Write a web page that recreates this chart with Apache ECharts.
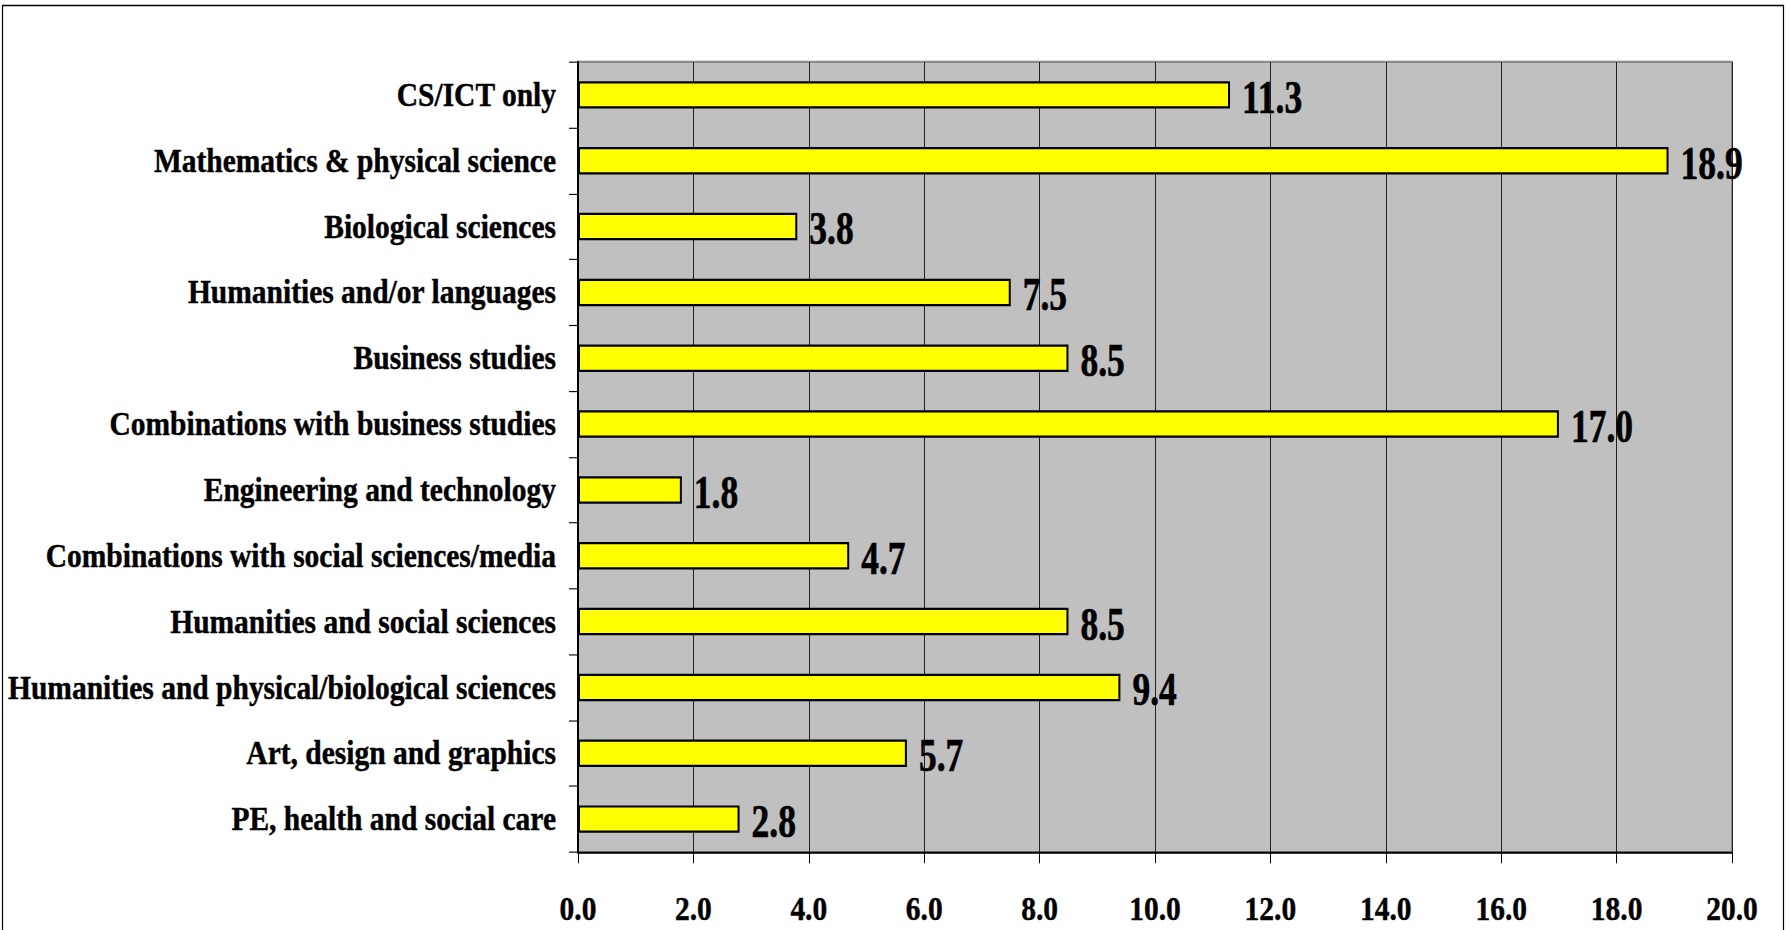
<!DOCTYPE html>
<html>
<head>
<meta charset="utf-8">
<title>Degree subjects</title>
<script src="https://cdn.jsdelivr.net/npm/echarts@6/dist/echarts.min.js"></script>
<style>
  html, body { margin: 0; padding: 0; background: #fff; overflow: hidden; }
  /* the chart is laid out 830px tall and stretched to fill the 930px frame,
     giving the tall, narrow lettering of the printed figure */
  #frame { width: 1789px; height: 930px; overflow: hidden; }
  #chart { width: 1789px; height: 830px; transform: scaleY(1.1205); transform-origin: 0 0; }
</style>
</head>
<body>
<div id="frame"><div id="chart"></div></div>
<script>
// Subject groups, listed top to bottom
const categories = [
  'CS/ICT only',
  'Mathematics & physical science',
  'Biological sciences',
  'Humanities and/or languages',
  'Business studies',
  'Combinations with business studies',
  'Engineering and technology',
  'Combinations with social sciences/media',
  'Humanities and social sciences',
  'Humanities and physical/biological sciences',
  'Art, design and graphics',
  'PE, health and social care'
];
// Percentage for each subject group
const values = [11.3, 18.9, 3.8, 7.5, 8.5, 17.0, 1.8, 4.7, 8.5, 9.4, 5.7, 2.8];
// Value axis range and step
const axisMin = 0;
const axisMax = 20;
const axisStep = 2;

const FONT = '"Liberation Serif", "Times New Roman", serif';

const chart = echarts.init(document.getElementById('chart'), null, { renderer: 'svg' });

chart.setOption({
  backgroundColor: '#ffffff',
  animation: false,
  grid: {
    left: 578, right: 57, top: 55.3, bottom: 69.6,
    show: true,
    backgroundColor: '#C0C0C0',
    borderColor: '#8a8a8a',
    borderWidth: 2
  },
  graphic: [{
    type: 'rect',
    silent: true,
    shape: { x: 2.5, y: 4.9, width: 1781, height: 1000 },
    style: { fill: 'none', stroke: '#000', lineWidth: 1.2 }
  }],
  xAxis: {
    type: 'value',
    min: axisMin, max: axisMax, interval: axisStep,
    axisLine: { show: true, lineStyle: { color: '#000', width: 1.8 } },
    axisTick: { show: true, length: 10, lineStyle: { color: '#000', width: 1 } },
    splitLine: { show: true, lineStyle: { color: '#222', width: 1 } },
    axisLabel: {
      margin: 36,
      color: '#000',
      fontFamily: FONT,
      fontWeight: 'bold',
      fontSize: 29.5,
      textBorderColor: '#000',
      textBorderWidth: 0.4,
      formatter: v => v.toFixed(1)
    }
  },
  yAxis: {
    type: 'category',
    inverse: true,
    data: categories,
    axisLine: { show: true, lineStyle: { color: '#000', width: 2 } },
    axisTick: { show: true, length: 9, lineStyle: { color: '#000', width: 1 } },
    splitLine: { show: false },
    axisLabel: {
      margin: 22,
      color: '#000',
      fontFamily: FONT,
      fontWeight: 'bold',
      fontSize: 29.5,
      textBorderColor: '#000',
      textBorderWidth: 0.4,
      padding: [14, 0, 0, 0]
    }
  },
  series: [
    {
      type: 'bar',
      data: values,
      barWidth: 24.5,
      itemStyle: { color: '#FFFF00', borderColor: '#000', borderWidth: 2 },
      z: 3
    },
    {
      // value labels at the end of each bar
      type: 'custom',
      clip: false,
      z: 5,
      data: values.map((v, i) => [v, i]),
      encode: { x: 0, y: 1 },
      renderItem: function (params, api) {
        const v = api.value(0);
        const pt = api.coord([v, api.value(1)]);
        return {
          type: 'text',
          x: pt[0] + 12,
          y: pt[1] + 2,
          scaleY: 1.16,
          style: {
            text: v.toFixed(1),
            x: 0, y: 0,
            fill: '#000',
            stroke: '#000',
            lineWidth: 0.5,
            font: 'bold 35.5px ' + FONT,
            align: 'left',
            verticalAlign: 'middle'
          }
        };
      }
    }
  ]
});
</script>
</body>
</html>
